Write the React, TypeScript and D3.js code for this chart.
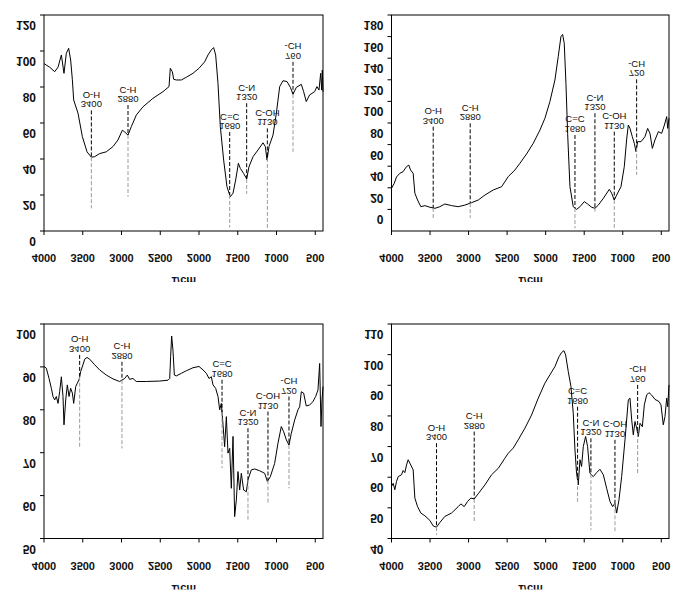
import * as d3 from "d3";

// FTIR spectra, 4 panels. Text in the source picture is drawn upside down,
// so every label is flipped vertically around its own centre.

type Pt = [number, number];

const waveTicks = [4000, 3500, 3000, 2500, 2000, 1500, 1000, 500];
const waveDomain: [number, number] = [4000, 400];
const axisTitle = "1/cm";

const bondNames = ["O-H", "C-H", "C=C", "C-N", "C-OH", "-CH"];
const bondWavesA = ["3400", "2880", "1680", "1320", "1130", "760"];
const bondWavesB = ["3400", "2880", "1680", "1320", "1130", "720"];

// ---- panel 1 (top left) ----
const yTicks1 = [0, 20, 40, 60, 80, 100, 120];
const yDomain1: [number, number] = [0, 120];
const spectrum1: Pt[] = [
  [4000, 93], [3927, 91], [3862, 88.5], [3819, 91], [3776, 97.8], [3742, 87.6],
  [3712, 98.7], [3682, 101.5], [3656, 95], [3634, 84], [3617, 72.8], [3561, 65.4],
  [3505, 52.4], [3445, 44], [3389, 41], [3346, 41.3], [3282, 43], [3196, 44],
  [3110, 46.9], [3045, 50.6], [2989, 56], [2959, 55], [2916, 53.3], [2873, 58],
  [2809, 64.4], [2723, 69], [2594, 73.7], [2465, 77.4], [2387, 80.2], [2370, 90.4],
  [2344, 88.5], [2327, 84.3], [2293, 83.9], [2228, 83.9], [2164, 85.4], [2078, 87.6],
  [2000, 90.4], [1927, 94], [1884, 97.8], [1841, 100.6], [1811, 101.9], [1785, 97.8],
  [1755, 82], [1725, 58], [1682, 39.4], [1639, 24.6], [1596, 19], [1561, 21],
  [1527, 28.3], [1492, 37.6], [1467, 34.8], [1424, 32], [1385, 28.9], [1355, 35.7],
  [1303, 41.3], [1239, 45], [1174, 49], [1144, 46.9], [1122, 39.4], [1097, 46.9],
  [1045, 53.3], [1002, 65.4], [959, 80.2], [916, 83.5], [864, 83], [821, 79.8],
  [787, 76], [744, 79.8], [680, 81.5], [650, 77.4], [616, 71.9], [573, 75.6],
  [508, 77.4], [478, 80.2], [452, 78.3], [430, 87.6], [417, 78.3], [409, 89.4],
  [400, 77.4],
];
const markerAt1 = [3389, 2916, 1604, 1385, 1118, 787];
const markerTop1 = [67, 70, 55, 71, 57, 94];
const markerBottom1 = [12.6, 19, 2, 20.6, 1.5, 44];

// ---- panel 2 (top right) ----
const yTicks2 = [0, 20, 40, 60, 80, 100, 120, 140, 160, 180];
const yDomain2: [number, number] = [-20, 180];
const spectrum2: Pt[] = [
  [4000, 19.5], [3965, 24], [3935, 30], [3892, 33.4], [3849, 35], [3805, 39.6],
  [3775, 41], [3753, 36.5], [3719, 33.4], [3697, 15], [3662, 8.7], [3619, 2.5],
  [3567, 3.5], [3502, 2], [3437, 1], [3373, 2.5], [3308, 5], [3221, 3.5],
  [3135, 2.5], [3048, 4], [2962, 6.2], [2875, 8.7], [2788, 13.3], [2680, 18],
  [2572, 21], [2486, 30.3], [2399, 36.5], [2334, 42.7], [2248, 51.3], [2161, 61.2],
  [2074, 73.5], [2010, 84.3], [1945, 99.8], [1880, 119.8], [1837, 141.4], [1802, 160],
  [1780, 162], [1759, 153.8], [1737, 116.7], [1715, 70.4], [1685, 21], [1642, 2.5],
  [1599, 0], [1555, 2.5], [1499, 7.2], [1456, 5], [1404, 2], [1361, 1],
  [1317, 4], [1252, 10.2], [1174, 18.6], [1144, 15], [1110, 8.7], [1079, 13.3],
  [1023, 21], [980, 39.6], [950, 64.3], [928, 78.1], [906, 75], [876, 67.3],
  [850, 61.2], [828, 53.5], [807, 62.7], [763, 62.7], [712, 67.3], [677, 75],
  [647, 70.4], [616, 56.5], [582, 64.3], [538, 72], [495, 70.4], [460, 78.1],
  [430, 85.9], [417, 75], [400, 84.3],
];
const markerAt2 = [3459, 2979, 1620, 1361, 1110, 820];
const markerTop2 = [76.6, 79.7, 68.9, 89, 72, 120.4];
const markerBottom2 = [-8, -8, -17.5, -2, -17, 32];

// ---- panel 3 (bottom left) ----
const yTicks3 = [50, 60, 70, 80, 90, 100];
const yDomain3: [number, number] = [50, 100];
const spectrum3: Pt[] = [
  [4000, 90.1], [3970, 89.7], [3935, 87.3], [3905, 85], [3884, 83.1], [3862, 82.3],
  [3841, 83.1], [3819, 81.5], [3798, 84.2], [3776, 87.7], [3755, 83.1], [3742, 76.5],
  [3720, 82.3], [3699, 85.8], [3677, 83.1], [3656, 85], [3634, 83.9], [3617, 81.5],
  [3591, 85.4], [3570, 86.2], [3548, 87], [3527, 88.9], [3497, 90.5], [3475, 91.8],
  [3445, 92.2], [3411, 91.8], [3346, 90.5], [3282, 89.3], [3196, 88.1], [3110, 87.2],
  [3024, 86.6], [2959, 87.3], [2925, 88.1], [2895, 87.1], [2852, 87.3], [2809, 86.6],
  [2680, 86.6], [2508, 86.7], [2400, 86.9], [2378, 87.3], [2366, 92.4], [2353, 97.2],
  [2336, 93.9], [2318, 88.1], [2293, 87.9], [2228, 88.5], [2164, 89.1], [2078, 89.8],
  [2000, 90.1], [1948, 89.3], [1905, 88.5], [1871, 87.3], [1841, 87.7], [1819, 85.8],
  [1785, 85], [1755, 83.1], [1733, 80], [1712, 81.5], [1690, 76.5], [1669, 71.4],
  [1647, 78.4], [1626, 69.9], [1604, 71], [1583, 61.7], [1561, 73.8], [1540, 55.1],
  [1518, 59], [1497, 65.6], [1475, 61.3], [1454, 65.2], [1424, 61.3], [1389, 60.9],
  [1368, 63.7], [1325, 66], [1282, 66.2], [1218, 65.8], [1153, 65.2], [1118, 63.3],
  [1080, 64.4], [1024, 67.5], [981, 72.2], [938, 76.1], [908, 74.9], [873, 73],
  [839, 71.8], [809, 74.5], [766, 77.6], [723, 80], [701, 80.7], [680, 84.2],
  [650, 83.9], [616, 80.9], [573, 81.1], [530, 81.9], [495, 83.1], [465, 84.6],
  [443, 90.8], [426, 76.1], [413, 82.3], [400, 85.4],
];
const markerAt3 = [3540, 2994, 1703, 1368, 1110, 839];
const markerTop3 = [92.8, 91.2, 87, 75.7, 79.6, 83.1];
const markerBottom3 = [71.4, 71, 66.4, 54.3, 58, 61.7];

// ---- panel 4 (bottom right) ----
const yTicks4 = [40, 50, 60, 70, 80, 90, 100, 110];
const yDomain4: [number, number] = [40, 110];
const spectrum4: Pt[] = [
  [4000, 57], [3978, 58], [3957, 55.9], [3935, 58.6], [3913, 60.2], [3870, 60.8],
  [3849, 62.2], [3827, 61.5], [3805, 64], [3784, 65.7], [3762, 64.6], [3719, 62.4],
  [3697, 53.2], [3662, 50.4], [3619, 48.3], [3567, 47.4], [3502, 45.9], [3459, 44.1],
  [3416, 43.7], [3373, 45.2], [3308, 47.2], [3221, 48.3], [3135, 50.4], [3100, 51.3],
  [3057, 50.4], [3013, 52.1], [2970, 53.2], [2927, 52.9], [2875, 54.6], [2788, 57.5],
  [2702, 60.8], [2615, 62.9], [2529, 66.2], [2486, 67.8], [2421, 69.5], [2356, 72.2],
  [2269, 76], [2183, 80.3], [2096, 85.8], [2010, 90.7], [1945, 93.4], [1880, 96.1],
  [1828, 99.3], [1793, 100.7], [1763, 101.3], [1741, 99.9], [1707, 94.5], [1672, 89.6],
  [1642, 80.9], [1620, 68.9], [1599, 61.3], [1577, 57.5], [1555, 65.7], [1534, 63.5],
  [1512, 70], [1482, 73.3], [1456, 70], [1426, 61.3], [1382, 60.2], [1339, 61.5],
  [1296, 62.6], [1252, 60.8], [1209, 56.4], [1166, 52.1], [1131, 50.4], [1101, 51.5],
  [1079, 48.3], [1049, 52.6], [1014, 60.2], [971, 72.2], [928, 85.2], [906, 85.8],
  [884, 78.7], [863, 73.8], [841, 78.2], [820, 76], [798, 73.3], [776, 77.6],
  [746, 76.5], [720, 83.6], [690, 86.8], [660, 87.6], [625, 86.8], [582, 85.4],
  [530, 84.7], [504, 83.6], [474, 77.1], [452, 79.8], [430, 85.8], [417, 83],
  [400, 90.1],
];
const markerAt4 = [3416, 2927, 1586, 1413, 1101, 807];
const markerTop4 = [71.1, 74.9, 83, 72.7, 72.2, 90.1];
const markerBottom4 = [41.2, 45.2, 52, 42.8, 42, 60.8];

type Panel = {
  id: string;
  box: { left: number; right: number; top: number; bottom: number };
  yDomain: [number, number];
  yTicks: number[];
  data: Pt[];
  markerAt: number[];
  markerTop: number[];
  markerBottom: number[];
  waves: string[];
};

const panels: Panel[] = [
  { id: "a", box: { left: 44, right: 323, top: 15, bottom: 231 }, yDomain: yDomain1, yTicks: yTicks1,
    data: spectrum1, markerAt: markerAt1, markerTop: markerTop1, markerBottom: markerBottom1, waves: bondWavesA },
  { id: "b", box: { left: 391.5, right: 669, top: 15, bottom: 231 }, yDomain: yDomain2, yTicks: yTicks2,
    data: spectrum2, markerAt: markerAt2, markerTop: markerTop2, markerBottom: markerBottom2, waves: bondWavesB },
  { id: "c", box: { left: 44, right: 323, top: 324, bottom: 538.5 }, yDomain: yDomain3, yTicks: yTicks3,
    data: spectrum3, markerAt: markerAt3, markerTop: markerTop3, markerBottom: markerBottom3, waves: bondWavesB },
  { id: "d", box: { left: 391.5, right: 669, top: 324, bottom: 538.5 }, yDomain: yDomain4, yTicks: yTicks4,
    data: spectrum4, markerAt: markerAt4, markerTop: markerTop4, markerBottom: markerBottom4, waves: bondWavesA },
];

const FONT = "'Liberation Sans', Arial, sans-serif";

// upside-down text, flipped around its own centre
function FlipText(props: {
  x: number;
  y: number;
  size: number;
  bold?: boolean;
  anchor?: "start" | "middle" | "end";
  children: string;
}) {
  const { x, y, size, bold, anchor = "middle", children } = props;
  return (
    <text
      transform={`translate(${x},${y}) scale(1,-1)`}
      textAnchor={anchor}
      dominantBaseline="central"
      fontSize={size}
      fontWeight={bold ? 700 : 400}
      fontFamily={FONT}
      fill="#111"
    >
      {children}
    </text>
  );
}

function valueAt(data: Pt[], w: number) {
  // data sorted by descending wavenumber
  for (let i = 0; i < data.length - 1; i++) {
    const [w0, v0] = data[i];
    const [w1, v1] = data[i + 1];
    if (w <= w0 && w >= w1) {
      const t = (w0 - w) / (w0 - w1 || 1);
      return v0 + t * (v1 - v0);
    }
  }
  return data[data.length - 1][1];
}

function SpectrumPanel({ p }: { p: Panel }) {
  const { left, right, top, bottom } = p.box;
  const x = d3.scaleLinear().domain(waveDomain).range([left, right]);
  const y = d3.scaleLinear().domain(p.yDomain).range([bottom, top]);
  const line = d3
    .line<Pt>()
    .x((d) => x(d[0]))
    .y((d) => y(d[1]));

  return (
    <g>
      <defs>
        <clipPath id={`title-clip-${p.id}`}>
          <rect x={left} y={bottom + 40} width={right - left} height={11} />
        </clipPath>
      </defs>

      {/* frame */}
      <rect x={left} y={top} width={right - left} height={bottom - top} fill="none" stroke="#000" strokeWidth={1} />

      {/* y axis */}
      {p.yTicks.map((t) => (
        <g key={`y${t}`}>
          <line x1={left - 4} x2={left} y1={y(t)} y2={y(t)} stroke="#000" />
          <FlipText x={left - 8} y={y(t) + 10} size={12} bold anchor="end">
            {String(t)}
          </FlipText>
        </g>
      ))}

      {/* x axis */}
      {waveTicks.map((t) => (
        <g key={`x${t}`}>
          <line x1={x(t)} x2={x(t)} y1={bottom} y2={bottom + 4} stroke="#000" />
          <FlipText x={x(t)} y={bottom + 27} size={11} bold>
            {String(t)}
          </FlipText>
        </g>
      ))}
      <g clipPath={`url(#title-clip-${p.id})`}>
        <FlipText x={(left + right) / 2} y={bottom + 50} size={11} bold>
          {axisTitle}
        </FlipText>
      </g>

      {/* spectrum */}
      <path d={line(p.data) || ""} fill="none" stroke="#000" strokeWidth={1} strokeLinejoin="round" />

      {/* band markers: black above the curve, grey below */}
      {bondNames.map((name, i) => {
        const w = p.markerAt[i];
        const cx = x(w);
        const hit = Math.min(valueAt(p.data, w), p.markerTop[i]);
        const yTop = y(p.markerTop[i]);
        return (
          <g key={name}>
            <line x1={cx} x2={cx} y1={yTop} y2={y(hit)} stroke="#000" strokeWidth={1} strokeDasharray="4 2" />
            <line x1={cx} x2={cx} y1={y(hit)} y2={y(p.markerBottom[i])} stroke="#9a9a9a" strokeWidth={1} strokeDasharray="4 2" />
            <FlipText x={cx} y={yTop - 15} size={9.5}>
              {name}
            </FlipText>
            <FlipText x={cx} y={yTop - 5.5} size={9.5}>
              {p.waves[i]}
            </FlipText>
          </g>
        );
      })}
    </g>
  );
}

export default function App() {
  return (
    <svg
      width={696}
      height={608}
      viewBox="0 0 696 608"
      style={{ position: "absolute", left: 0, top: 0, background: "#fff" }}
    >
      <rect width={696} height={608} fill="#fff" />
      {panels.map((p) => (
        <SpectrumPanel key={p.id} p={p} />
      ))}
    </svg>
  );
}
